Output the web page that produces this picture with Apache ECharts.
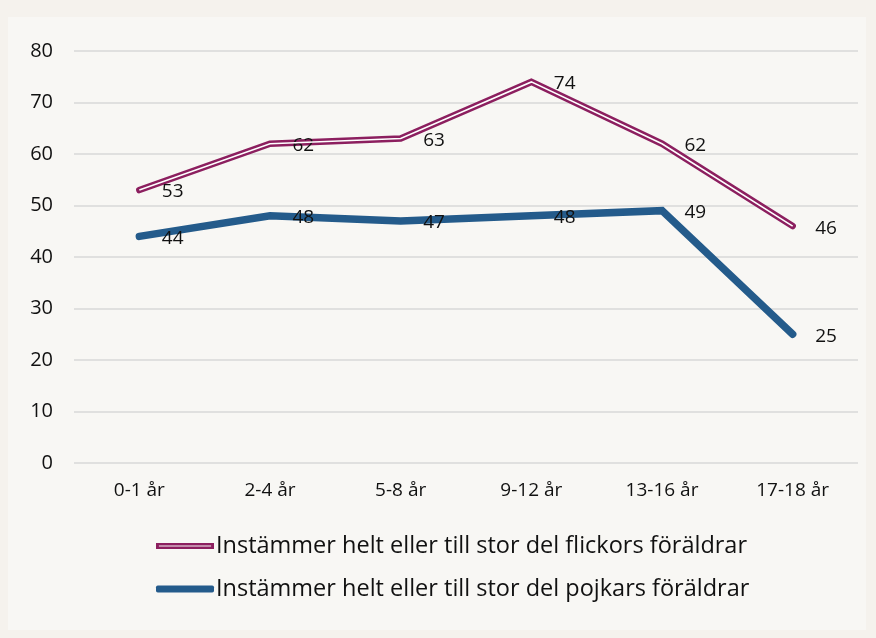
<!DOCTYPE html>
<html>
<head>
<meta charset="utf-8">
<script src="https://cdn.jsdelivr.net/npm/echarts@6/dist/echarts.min.js"></script>
<style>
    html, body { margin: 0; padding: 0; background: #f5f2ed; }
    #chart { width: 876px; height: 638px; }
</style>
</head>
<body>
<div id="chart"></div>
<script>
// 数据
var categories = ['0-1 år', '2-4 år', '5-8 år', '9-12 år', '13-16 år', '17-18 år'];
var flickor = [53, 62, 63, 74, 62, 46];
var pojkar = [44, 48, 47, 48, 49, 25];
var yTicks = [0, 10, 20, 30, 40, 50, 60, 70, 80];
var names = [
    'Instämmer helt eller till stor del flickors föräldrar',
    'Instämmer helt eller till stor del pojkars föräldrar'
];

var magenta = '#8c1f5f';
var blue = '#245b8b';
var font = '"Open Sans", Lato, sans-serif';

var myChart = echarts.init(document.getElementById('chart'));

var labelStyle = {
    show: true,
    position: 'right',
    distance: 22,
    offset: [0, 2],
    color: '#111',
    fontSize: 19,
    fontFamily: font
};

var option = {
    backgroundColor: '#f5f2ed',
    animation: false,
    graphic: [{
        type: 'rect',
        z: -10,
        shape: { x: 8, y: 17, width: 858, height: 613 },
        style: { fill: '#f8f7f4' }
    }],
    grid: {
        left: 74,
        right: 18,
        top: 51,
        bottom: 175
    },
    xAxis: {
        type: 'category',
        data: categories,
        boundaryGap: true,
        axisLine: { show: false },
        axisTick: { show: false },
        axisLabel: {
            color: '#111',
            fontSize: 19,
            fontFamily: font,
            margin: 18
        }
    },
    yAxis: {
        type: 'value',
        min: yTicks[0],
        max: yTicks[yTicks.length - 1],
        interval: 10,
        axisLine: { show: false },
        axisTick: { show: false },
        axisLabel: {
            color: '#111',
            fontSize: 20,
            fontFamily: font,
            margin: 21
        },
        splitLine: {
            lineStyle: { color: '#d9d9d9', width: 1.5 }
        }
    },
    legend: {
        orient: 'vertical',
        left: 151,
        top: 529,
        itemGap: 19,
        itemWidth: 58,
        itemHeight: 7,
        textStyle: {
            color: '#111',
            fontSize: 23.5,
            fontFamily: font,
            padding: [0, 0, 0, -3]
        },
        data: [
            {
                name: names[0],
                icon: 'path://M0,0 H60 V6 H0 Z M3,2.5 V3.5 H57 V2.5 Z',
                itemStyle: { color: magenta }
            },
            {
                name: names[1],
                icon: 'roundRect',
                itemStyle: { color: blue }
            }
        ]
    },
    series: [
        {
            name: names[1],
            type: 'line',
            data: pojkar,
            symbol: 'circle',
            symbolSize: 1,
            itemStyle: { color: blue },
            lineStyle: { color: blue, width: 7.5, cap: 'round', join: 'miter' },
            label: labelStyle,
            z: 2
        },
        {
            name: names[0],
            type: 'line',
            data: flickor,
            symbol: 'circle',
            symbolSize: 1,
            itemStyle: { color: magenta },
            lineStyle: { color: magenta, width: 6.5, cap: 'round', join: 'miter' },
            label: labelStyle,
            z: 3
        },
        {
            // 白色内线，做出双线效果
            name: 'inner',
            type: 'line',
            data: flickor,
            symbol: 'none',
            silent: true,
            lineStyle: { color: '#ffffff', width: 1.6, join: 'miter' },
            z: 4
        }
    ]
};
myChart.setOption(option);
</script>
</body>
</html>
